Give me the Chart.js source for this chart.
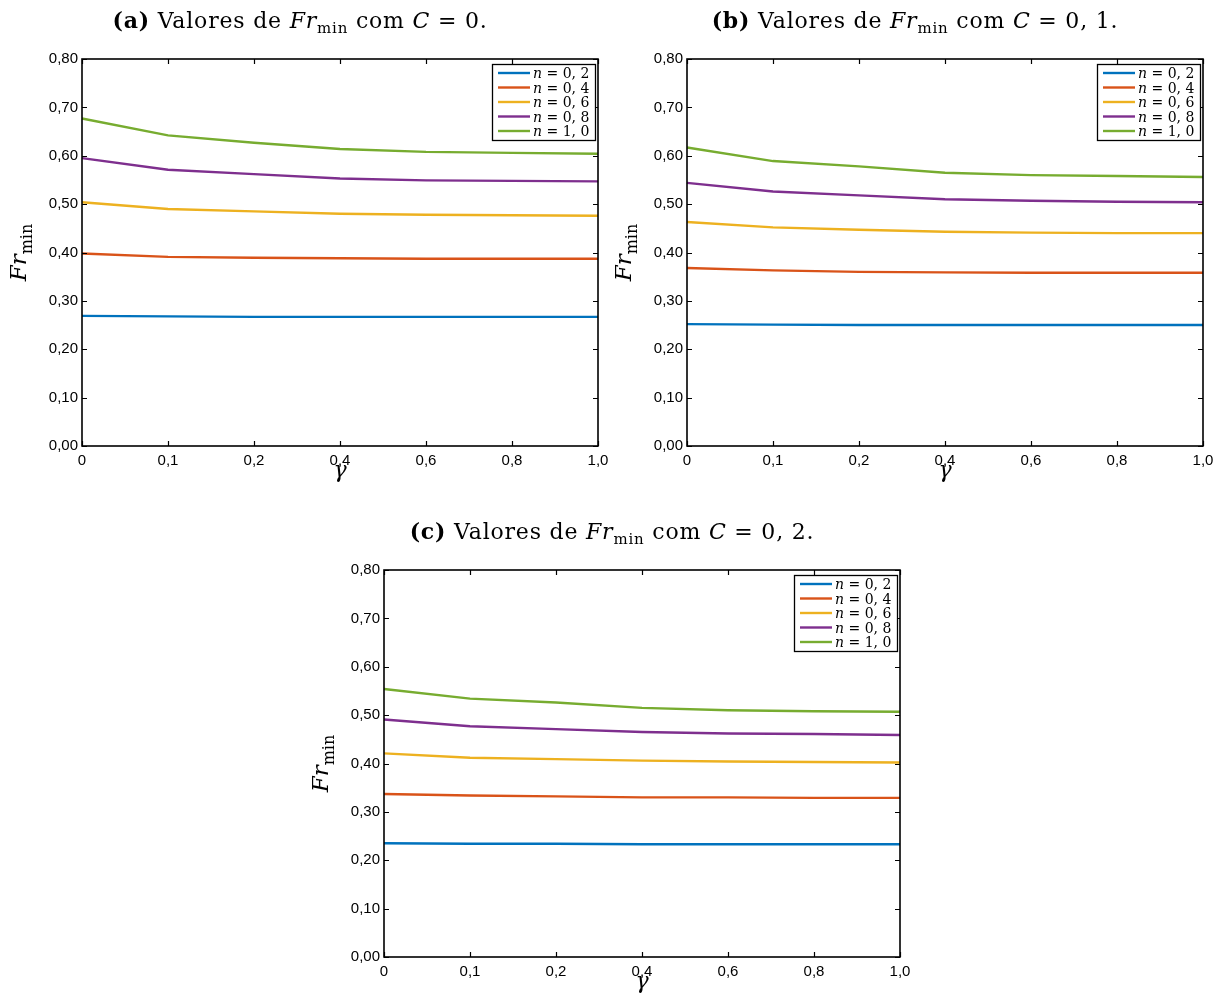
<!DOCTYPE html>
<html>
<head>
<meta charset="utf-8">
<script src="https://cdn.jsdelivr.net/npm/chart.js@4.4.1/dist/chart.umd.min.js"></script>
<style>
  body { margin: 0; background: #fff; width: 1225px; height: 993px; position: relative; overflow: hidden; }
  canvas { position: absolute; }
</style>
</head>
<body>
<canvas id="chartA" width="620" height="490" style="left:0px;top:0px"></canvas>
<canvas id="chartB" width="620" height="490" style="left:605px;top:0px"></canvas>
<canvas id="chartC" width="620" height="498" style="left:302px;top:495px"></canvas>
<script>
// gamma values on the x axis (evenly spaced categories)
const gammaLabels = ['0', '0,1', '0,2', '0,4', '0,6', '0,8', '1,0'];
const nLabels = ['0, 2', '0, 4', '0, 6', '0, 8', '1, 0'];
const seriesColors = ['#0072BD', '#D95319', '#EDB120', '#7E2F8E', '#77AC30'];

// Fr_min for each n (rows) and gamma (columns)
const frC0 = [
  [0.269, 0.268, 0.267, 0.267, 0.267, 0.267, 0.267],
  [0.398, 0.391, 0.389, 0.388, 0.387, 0.387, 0.387],
  [0.504, 0.490, 0.485, 0.480, 0.478, 0.477, 0.476],
  [0.595, 0.571, 0.562, 0.553, 0.549, 0.548, 0.547],
  [0.677, 0.642, 0.627, 0.614, 0.608, 0.606, 0.604]
];
const frC01 = [
  [0.252, 0.251, 0.250, 0.250, 0.250, 0.250, 0.250],
  [0.368, 0.363, 0.360, 0.359, 0.358, 0.358, 0.358],
  [0.463, 0.452, 0.447, 0.443, 0.441, 0.440, 0.440],
  [0.544, 0.526, 0.518, 0.510, 0.507, 0.505, 0.504],
  [0.617, 0.589, 0.578, 0.565, 0.560, 0.558, 0.556]
];
const frC02 = [
  [0.235, 0.234, 0.234, 0.233, 0.233, 0.233, 0.233],
  [0.337, 0.334, 0.332, 0.330, 0.330, 0.329, 0.329],
  [0.421, 0.412, 0.409, 0.406, 0.404, 0.403, 0.402],
  [0.491, 0.477, 0.471, 0.465, 0.462, 0.461, 0.459],
  [0.554, 0.534, 0.526, 0.515, 0.510, 0.508, 0.507]
];

const SERIF = '"DejaVu Serif", "Liberation Serif", serif';
const SANS = '"Liberation Sans", Arial, sans-serif';

// draws a sequence of text pieces with different fonts, starting at x
function drawRuns(ctx, runs, x, y, align) {
  let total = 0;
  runs.forEach(r => { ctx.font = r.font; r.w = ctx.measureText(r.text).width; total += r.w; });
  let cx = align === 'center' ? x - total / 2 : x;
  runs.forEach(r => {
    ctx.font = r.font;
    ctx.fillText(r.text, cx, y + (r.dy || 0));
    cx += r.w;
  });
}

// MATLAB style box, inward ticks, legend and labels
const matlabFrame = {
  id: 'matlabFrame',
  afterDatasetsDraw(chart, args, opts) {
    const ctx = chart.ctx;
    const a = chart.chartArea;
    const xs = chart.scales.x, ys = chart.scales.y;
    ctx.save();
    ctx.strokeStyle = '#000';
    ctx.lineWidth = 1.2;
    ctx.beginPath();
    xs.ticks.forEach((t, i) => {
      const px = Math.round(xs.getPixelForTick(i)) + 0.5;
      ctx.moveTo(px, a.bottom); ctx.lineTo(px, a.bottom - 5);
      ctx.moveTo(px, a.top); ctx.lineTo(px, a.top + 5);
    });
    ys.ticks.forEach((t, i) => {
      const py = Math.round(ys.getPixelForTick(i)) + 0.5;
      ctx.moveTo(a.left, py); ctx.lineTo(a.left + 5, py);
      ctx.moveTo(a.right, py); ctx.lineTo(a.right - 5, py);
    });
    ctx.stroke();
    ctx.lineWidth = 1.6;
    ctx.strokeRect(a.left, a.top, a.right - a.left, a.bottom - a.top);

    // legend box
    const bx = a.right - 106, by = a.top + 5, bw = 103, bh = 76;
    ctx.fillStyle = '#fff';
    ctx.fillRect(bx, by, bw, bh);
    ctx.lineWidth = 1.3;
    ctx.strokeRect(bx + 0.5, by + 0.5, bw, bh);
    chart.data.datasets.forEach((ds, i) => {
      const ry = by + 9 + i * 14.5;
      ctx.strokeStyle = ds.borderColor;
      ctx.lineWidth = 2.4;
      ctx.beginPath();
      ctx.moveTo(bx + 6, ry); ctx.lineTo(bx + 38, ry);
      ctx.stroke();
      ctx.fillStyle = '#000';
      ctx.textBaseline = 'alphabetic';
      drawRuns(ctx, [
        { text: 'n', font: 'italic 14px ' + SERIF },
        { text: ' = ' + nLabels[i], font: '14px ' + SERIF }
      ], bx + 41, ry + 5, 'left');
    });
    ctx.restore();
  },
  afterDraw(chart, args, opts) {
    const ctx = chart.ctx;
    const a = chart.chartArea;
    ctx.save();
    ctx.fillStyle = '#000';
    ctx.textBaseline = 'alphabetic';
    // panel title
    ctx.letterSpacing = '0.8px';
    drawRuns(ctx, [
      { text: opts.tag, font: 'bold 22px ' + SERIF },
      { text: ' Valores de ', font: '22px ' + SERIF },
      { text: 'Fr', font: 'italic 22px ' + SERIF },
      { text: 'min', font: '15px ' + SERIF, dy: 5 },
      { text: ' com ', font: '22px ' + SERIF },
      { text: 'C', font: 'italic 22px ' + SERIF },
      { text: ' = ' + opts.cText + '.', font: '22px ' + SERIF }
    ], a.left + opts.titleOffset, a.top - 31, 'center');
    ctx.letterSpacing = '0px';
    // x axis label
    drawRuns(ctx, [{ text: 'γ', font: 'italic 22px ' + SERIF }], (a.left + a.right) / 2, a.bottom + 31, 'center');
    // y axis label
    ctx.translate(a.left - 56, (a.top + a.bottom) / 2);
    ctx.rotate(-Math.PI / 2);
    drawRuns(ctx, [
      { text: 'Fr', font: 'italic 23px ' + SERIF },
      { text: 'min', font: '16px ' + SERIF, dy: 6 }
    ], 0, 0, 'center');
    ctx.restore();
  }
};

function makeChart(id, values, tag, cText, titleOffset, axisHeight, padTop, padRight) {
  const datasets = values.map((row, i) => ({
    label: 'n = ' + nLabels[i],
    data: row,
    borderColor: seriesColors[i],
    backgroundColor: seriesColors[i],
    borderWidth: 2.4,
    pointRadius: 0,
    tension: 0,
    fill: false
  }));
  return new Chart(document.getElementById(id), {
    type: 'line',
    data: { labels: gammaLabels, datasets: datasets },
    options: {
      responsive: false,
      devicePixelRatio: 1,
      animation: false,
      layout: { padding: { top: padTop, right: padRight, left: 0, bottom: 0 } },
      scales: {
        x: {
          type: 'category',
          offset: false,
          grid: { display: false, drawTicks: false },
          border: { display: false },
          ticks: { color: '#000', font: { family: SANS, size: 15 }, padding: 6, maxRotation: 0, autoSkip: false },
          afterFit(scale) { scale.height = axisHeight; }
        },
        y: {
          min: 0,
          max: 0.8,
          grid: { display: false, drawTicks: false },
          border: { display: false },
          ticks: {
            stepSize: 0.1,
            color: '#000',
            font: { family: SANS, size: 15 },
            padding: 4,
            callback: v => v.toFixed(2).replace('.', ',')
          },
          afterFit(scale) { scale.width = 82; }
        }
      },
      plugins: {
        legend: { display: false },
        tooltip: { enabled: false },
        matlabFrame: { tag: tag, cText: cText, titleOffset: titleOffset }
      }
    },
    plugins: [matlabFrame]
  });
}

makeChart('chartA', frC0, '(a)', '0', 218, 44, 59, 22);
makeChart('chartB', frC01, '(b)', '0, 1', 228, 44, 59, 22);
makeChart('chartC', frC02, '(c)', '0, 2', 228, 36, 75, 22);
</script>
</body>
</html>
